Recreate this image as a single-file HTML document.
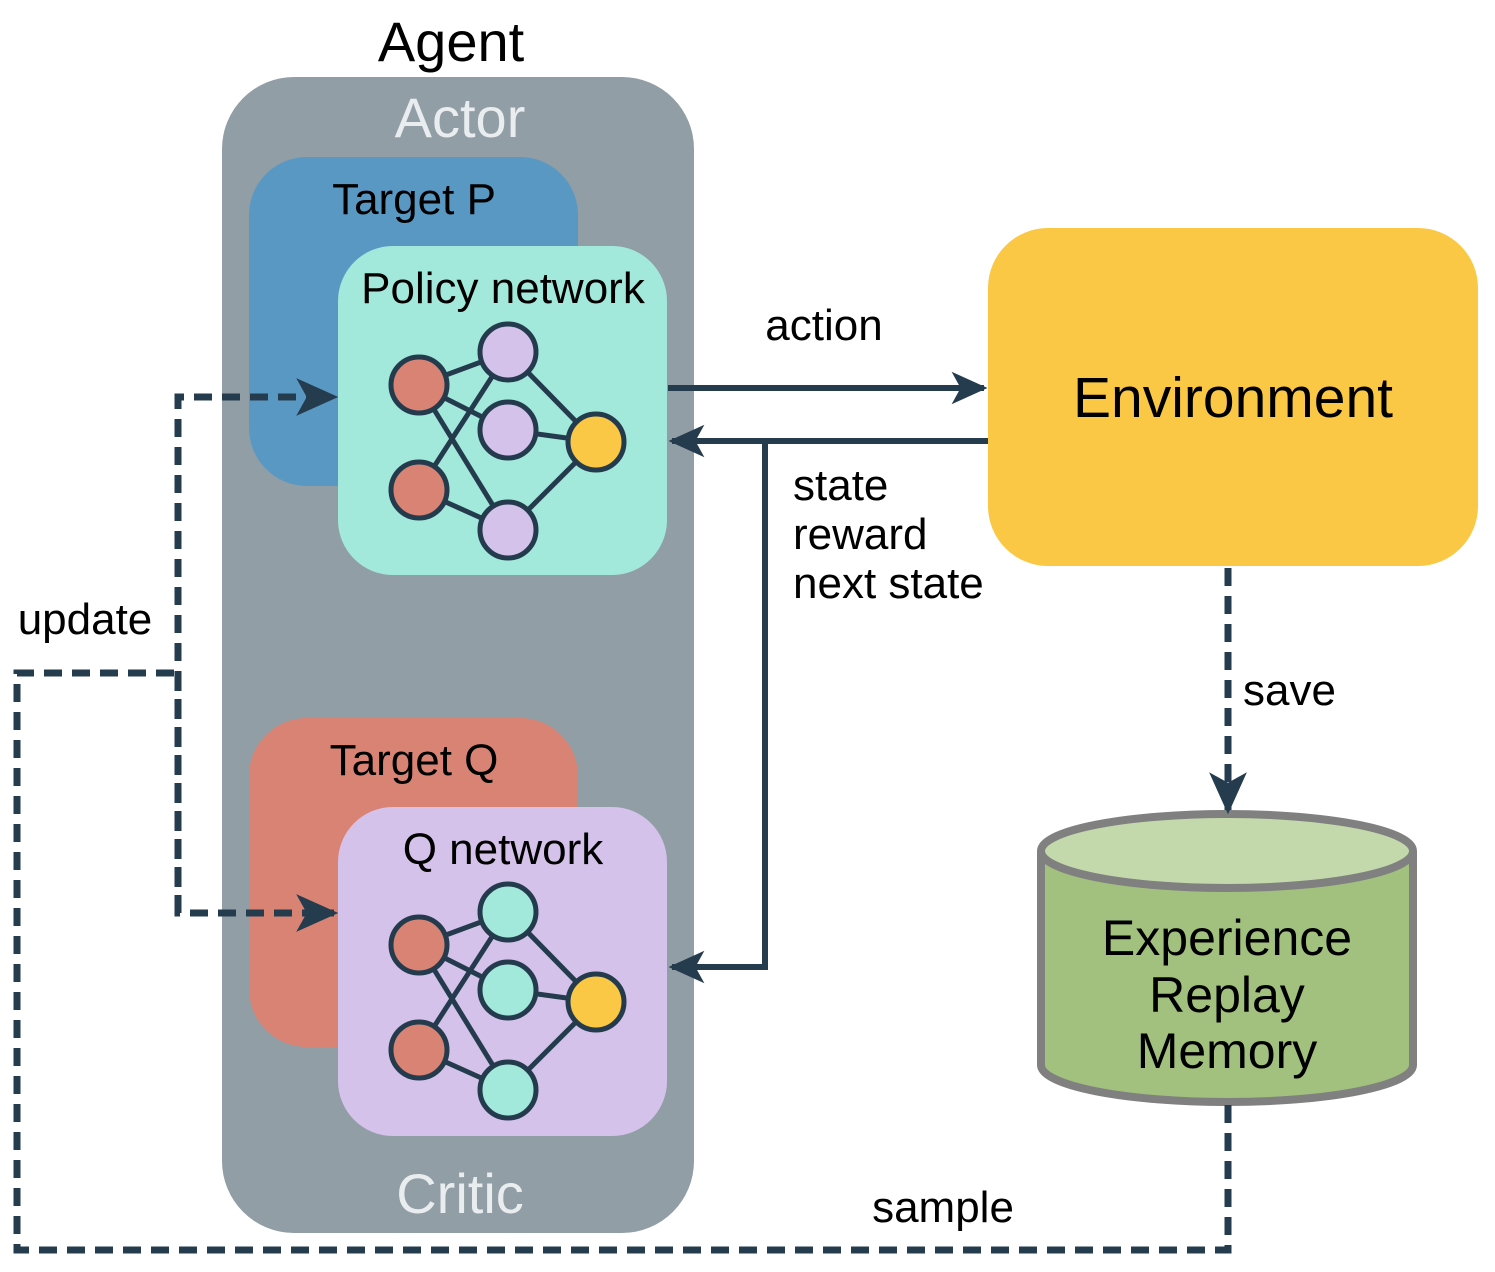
<!DOCTYPE html>
<html><head><meta charset="utf-8"><style>html,body{margin:0;padding:0;background:#fff}svg{display:block}text{font-family:"Liberation Sans",Arial,sans-serif}</style></head><body>
<svg width="1495" height="1272" viewBox="0 0 1495 1272" xmlns="http://www.w3.org/2000/svg">
<defs>
<marker id="ah" viewBox="0 0 20 20" refX="18" refY="10" markerWidth="6" markerHeight="6" markerUnits="strokeWidth" orient="auto"><path d="M0,1 L20,10 L0,19 L5,10 Z" fill="#253c4e"/></marker>
</defs>
<rect x="222" y="77" width="472" height="1156" rx="72" fill="#929ea5"/>
<rect x="249" y="157" width="329" height="329" rx="58" fill="#5a98c4"/>
<rect x="338" y="246" width="329" height="329" rx="55" fill="#a2e9dc"/>
<rect x="249" y="718" width="329" height="329" rx="58" fill="#d98374"/>
<rect x="338" y="807" width="329" height="329" rx="55" fill="#d5c2eb"/>
<rect x="988" y="228" width="490" height="338" rx="60" fill="#fbc846"/>
<g stroke="#243b4d" stroke-width="5">
<g id="net">
<line x1="419" y1="385" x2="508" y2="352"/><line x1="419" y1="385" x2="508" y2="430"/><line x1="419" y1="385" x2="508" y2="530"/>
<line x1="419" y1="490" x2="508" y2="352"/><line x1="419" y1="490" x2="508" y2="530"/>
<line x1="508" y1="352" x2="596" y2="442"/><line x1="508" y1="430" x2="596" y2="442"/><line x1="508" y1="530" x2="596" y2="442"/>
</g>
<use href="#net" y="560"/>
<circle cx="419" cy="385" r="28" fill="#d98374"/><circle cx="419" cy="490" r="28" fill="#d98374"/>
<circle cx="508" cy="352" r="28" fill="#d5c2eb"/><circle cx="508" cy="430" r="28" fill="#d5c2eb"/><circle cx="508" cy="530" r="28" fill="#d5c2eb"/>
<circle cx="596" cy="442" r="28" fill="#fbc846"/>
<circle cx="419" cy="945" r="28" fill="#d98374"/><circle cx="419" cy="1050" r="28" fill="#d98374"/>
<circle cx="508" cy="912" r="28" fill="#a2e9dc"/><circle cx="508" cy="990" r="28" fill="#a2e9dc"/><circle cx="508" cy="1090" r="28" fill="#a2e9dc"/>
<circle cx="596" cy="1002" r="28" fill="#fbc846"/>
</g>
<path d="M1041,851 L1041,1065 A186,37 0 0 0 1413,1065 L1413,851" fill="#a2c17f" stroke="#808080" stroke-width="8"/>
<ellipse cx="1227" cy="851" rx="186" ry="37" fill="#c3d9ab" stroke="#808080" stroke-width="8"/>
<g fill="none" stroke="#253c4e" stroke-width="6">
<line x1="668" y1="388" x2="984" y2="388" marker-end="url(#ah)"/>
<path d="M988,441 L672,441" marker-end="url(#ah)"/>
<path d="M765,441 L765,967 L672,967" marker-end="url(#ah)"/>
</g>
<g fill="none" stroke="#253c4e" stroke-width="7" stroke-dasharray="18,10">
<path d="M178,913 L178,397 L334,397" marker-end="url(#ah)"/>
<path d="M178,673 L178,913 L334,913" marker-end="url(#ah)"/>
<path d="M1228,1105 L1228,1250 L17,1250 L17,673 L178,673"/>
<path d="M1228,568 L1228,810" marker-end="url(#ah)"/>
</g>
<g font-size="44" fill="#000">
<text x="451" y="61" font-size="56" text-anchor="middle">Agent</text>
<text x="460" y="137" font-size="56" text-anchor="middle" fill="#e9edef">Actor</text>
<text x="460" y="1213" font-size="56" text-anchor="middle" fill="#e9edef">Critic</text>
<text x="414" y="214" text-anchor="middle">Target P</text>
<text x="503" y="303" text-anchor="middle">Policy network</text>
<text x="414" y="775" text-anchor="middle">Target Q</text>
<text x="503" y="864" text-anchor="middle">Q network</text>
<text x="824" y="340" text-anchor="middle">action</text>
<text x="793" y="500">state</text>
<text x="793" y="549">reward</text>
<text x="793" y="598">next state</text>
<text x="1233" y="417" font-size="57" text-anchor="middle">Environment</text>
<text x="1243" y="705">save</text>
<text x="85" y="634" text-anchor="middle">update</text>
<text x="943" y="1222" text-anchor="middle">sample</text>
<text x="1227" y="955" font-size="50" text-anchor="middle">Experience</text>
<text x="1227" y="1012" font-size="50" text-anchor="middle">Replay</text>
<text x="1227" y="1068" font-size="50" text-anchor="middle">Memory</text>
</g>
</svg>
</body></html>
